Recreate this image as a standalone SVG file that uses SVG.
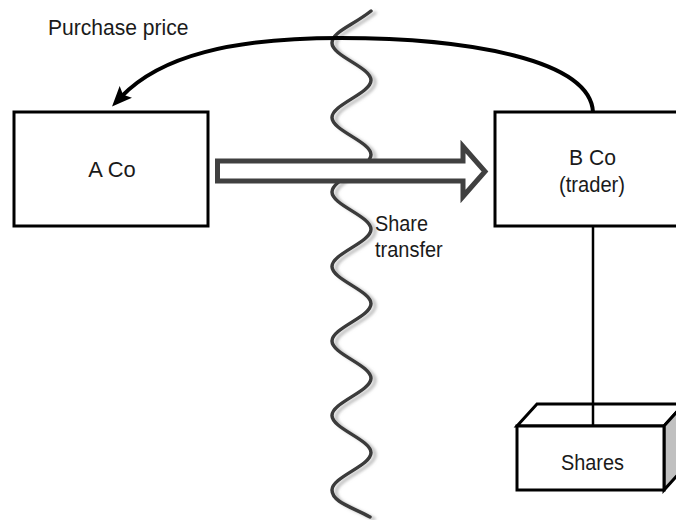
<svg xmlns="http://www.w3.org/2000/svg" width="676" height="520" viewBox="0 0 676 520">
<style>
  .box { fill: #ffffff; stroke: #000000; stroke-width: 3; }
  .lbl { font-family: "Liberation Sans", Arial, sans-serif; font-size: 22px; fill: #1a1a1a; }
  .mid { text-anchor: middle; }
  .wave { fill: none; stroke: #3a3a3a; stroke-width: 3.5; stroke-linecap: round; }
  .curve { fill: none; stroke: #000000; stroke-width: 4; }
  .hollow { fill: #ffffff; stroke: #404040; stroke-width: 5; stroke-linejoin: miter; }
  .link { stroke: #000000; stroke-width: 2.5; }
</style>
<defs>
  <filter id="shadow" filterUnits="userSpaceOnUse" x="290" y="0" width="120" height="520">
    <feDropShadow dx="4" dy="2" stdDeviation="1.8" flood-color="#8a8a8a" flood-opacity="0.55"/>
  </filter>
  <marker id="head" markerUnits="userSpaceOnUse" viewBox="-10 -10 25 20" markerWidth="25" markerHeight="20" refX="0" refY="0" orient="auto" overflow="visible">
    <path d="M-7,-8.5 L13,0 L-7,8.5 L-3,0 Z" fill="#000000"/>
  </marker>
</defs>

<!-- dividing wave line -->
<g id="divider">
  <path class="wave" filter="url(#shadow)" d="M371,11 C352,26 332,32 332,43
    C332,56 371,67.25 371,80.25
    C371,93.25 332,104.5 332,117.5
    C332,130.5 371,141.75 371,154.75
    C371,167.75 332,179 332,192
    C332,205 371,216.25 371,229.25
    C371,242.25 332,253.5 332,266.5
    C332,279.5 371,290.75 371,303.75
    C371,316.75 332,328 332,341
    C332,354 371,365.25 371,378.25
    C371,391.25 332,402.5 332,415.5
    C332,428.5 371,439.75 371,452.75
    C371,465.75 332,477 332,490
    C332,502 352,507 370,517"/>
</g>

<g id="connectors">
  <polygon id="share-transfer-arrow" class="hollow" points="217.5,161 463,161 463,146.5 485,171.5 463,196.5 463,181 217.5,181"/>
  <path id="purchase-price-arrow" class="curve" marker-end="url(#head)" d="M593,112 C590,60 470,38 340,38 C232,38 160,56 121,97"/>
  <line id="bco-shares" class="link" x1="593" y1="226" x2="593" y2="423"/>
</g>

<g id="aco">
  <rect class="box" x="14" y="112" width="194" height="114"/>
  <text class="lbl mid" x="112" y="177" textLength="47.5" lengthAdjust="spacingAndGlyphs">A Co</text>
</g>

<g id="bco">
  <rect class="box" x="495" y="112" width="194" height="114"/>
  <text class="lbl mid" x="592.5" y="165" textLength="47" lengthAdjust="spacingAndGlyphs">B Co</text>
  <text class="lbl mid" x="592" y="192" textLength="66" lengthAdjust="spacingAndGlyphs">(trader)</text>
</g>

<g id="shares">
  <polygon class="box" points="517,426 537,404 684,404 664,426"/>
  <polygon points="664,426 684,404 684,468 664,490" fill="#c0c0c0" stroke="#000000" stroke-width="3" stroke-linejoin="miter"/>
  <rect class="box" x="517" y="426" width="147" height="64"/>
  <line class="link" x1="593" y1="404" x2="593" y2="425"/>
  <text class="lbl mid" x="592.5" y="470" textLength="63" lengthAdjust="spacingAndGlyphs">Shares</text>
</g>

<g id="labels">
  <text class="lbl" x="48" y="35" textLength="140.5" lengthAdjust="spacingAndGlyphs">Purchase price</text>
  <text class="lbl" x="375" y="231" textLength="53" lengthAdjust="spacingAndGlyphs">Share</text>
  <text class="lbl" x="375" y="257" textLength="67.7" lengthAdjust="spacingAndGlyphs">transfer</text>
</g>
</svg>
